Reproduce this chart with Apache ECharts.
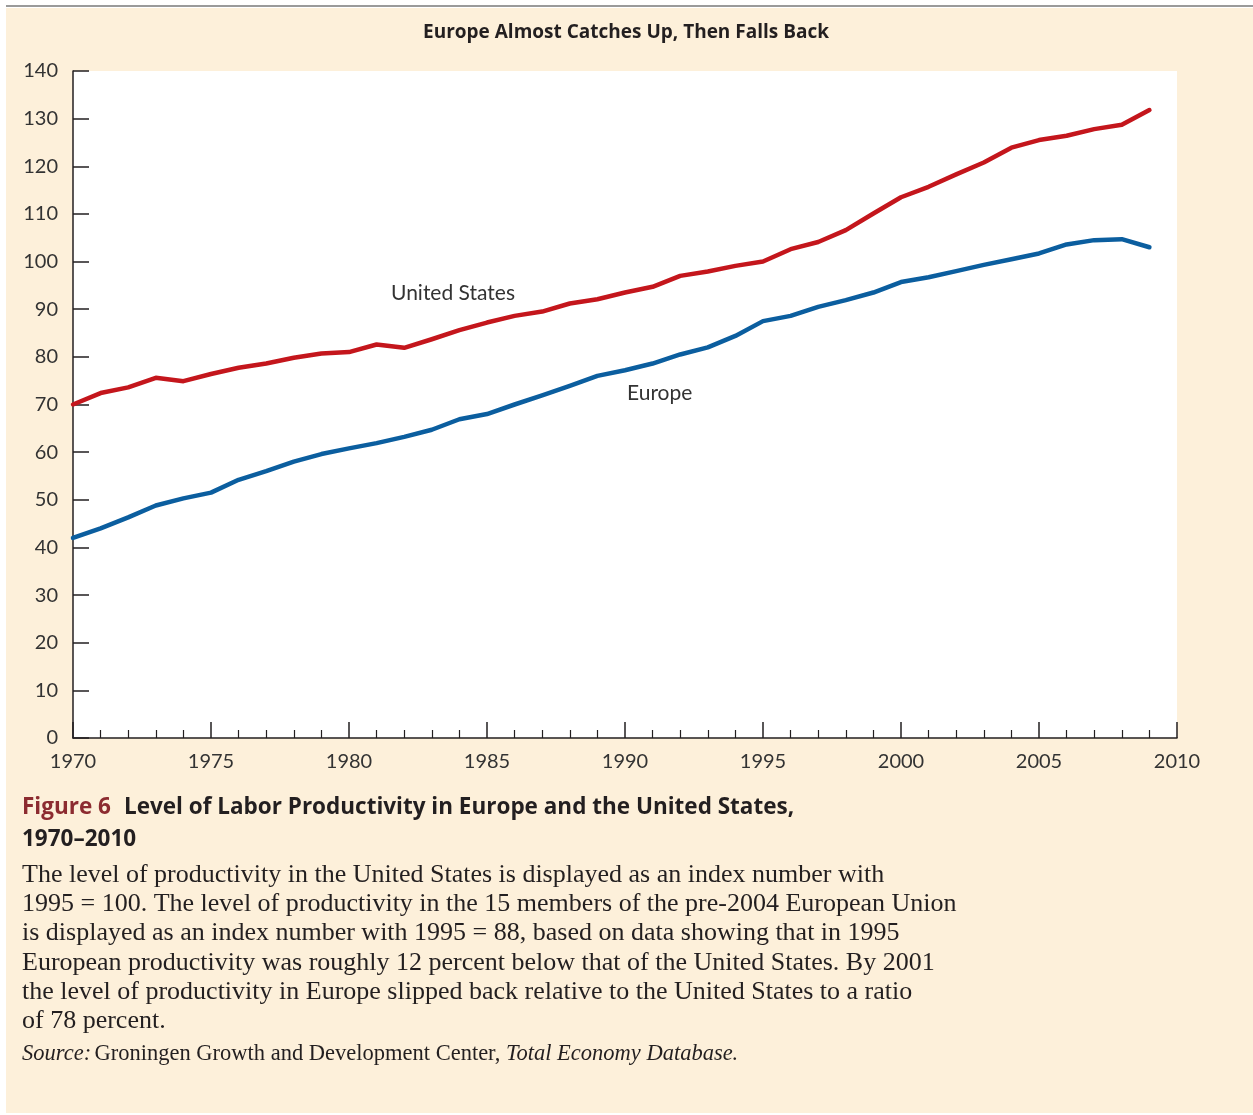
<!DOCTYPE html>
<html>
<head>
<meta charset="utf-8">
<script src="https://cdn.jsdelivr.net/npm/echarts@6/dist/echarts.min.js"></script>
<style>
html,body{margin:0;padding:0;background:#ffffff;}
#chart{width:1253px;height:1115px;}
</style>
</head>
<body>
<div id="chart"></div>
<script>
// ---- data ----
const years = [1970,1971,1972,1973,1974,1975,1976,1977,1978,1979,1980,1981,1982,1983,1984,1985,1986,1987,1988,1989,1990,1991,1992,1993,1994,1995,1996,1997,1998,1999,2000,2001,2002,2003,2004,2005,2006,2007,2008,2009];
const usValues = [70.0,72.4,73.6,75.6,74.9,76.4,77.7,78.6,79.8,80.7,81.0,82.6,81.9,83.7,85.6,87.2,88.6,89.5,91.2,92.1,93.5,94.7,97.0,97.9,99.1,100.0,102.6,104.1,106.6,110.1,113.5,115.7,118.3,120.8,123.9,125.5,126.4,127.8,128.7,131.8];
const europeValues = [42.0,44.0,46.3,48.8,50.3,51.5,54.2,56.0,58.0,59.6,60.8,61.9,63.2,64.7,66.9,68.0,70.0,71.9,73.9,76.0,77.2,78.6,80.5,82.0,84.4,87.5,88.6,90.5,91.9,93.5,95.7,96.7,98.0,99.3,100.5,101.7,103.6,104.5,104.7,103.0];
const seriesNames = ['United States','Europe'];
const yTicks = [0,10,20,30,40,50,60,70,80,90,100,110,120,130,140];
const xTicks = [1970,1975,1980,1985,1990,1995,2000,2005,2010];

const chartTitle = 'Europe Almost Catches Up, Then Falls Back';
const figLabel = 'Figure 6';
const figTitle1 = 'Level of Labor Productivity in Europe and the United States,';
const figTitle2 = '1970\u20132010';
const bodyLines = [
 'The level of productivity in the United States is displayed as an index number with',
 '1995 = 100. The level of productivity in the 15 members of the pre-2004 European Union',
 'is displayed as an index number with 1995 = 88, based on data showing that in 1995',
 'European productivity was roughly 12 percent below that of the United States. By 2001',
 'the level of productivity in Europe slipped back relative to the United States to a ratio',
 'of 78 percent.'
];

const usData = years.map((y,i)=>[y,usValues[i]]);
const euData = years.map((y,i)=>[y,europeValues[i]]);

const cream = '#fdf0da';
const sansFont = 'Lato';
const serifFont = 'Liberation Serif';

const chart = echarts.init(document.getElementById('chart'), null, {renderer:'canvas'});

const graphics = [
  {type:'rect', z:-10, shape:{x:6,y:8,width:1247,height:1105}, style:{fill:cream}},
  {type:'rect', z:-9, shape:{x:6,y:5,width:1247,height:2}, style:{fill:'#9a9a9a'}},
  {type:'text', x:626, y:33, style:{text:chartTitle, fill:'#231f20', font:'bold 19px "Open Sans"', align:'center', verticalAlign:'middle'}},
  {type:'text', x:391, y:293, style:{text:seriesNames[0], fill:'#333', font:'21px '+sansFont, align:'left', verticalAlign:'middle'}},
  {type:'text', x:627, y:393, style:{text:seriesNames[1], fill:'#333', font:'21px '+sansFont, align:'left', verticalAlign:'middle'}},
  {type:'text', x:22, y:808, style:{
     text:'{r|'+figLabel+'}{b|'+figTitle1+'}',
     verticalAlign:'middle',
     rich:{
       r:{fill:'#8c2b30', font:'bold 22.5px "Open Sans"', padding:[0,13,0,0]},
       b:{fill:'#231f20', font:'bold 22.5px "Open Sans"'}
     }}},
  {type:'text', x:22, y:840, style:{text:figTitle2, fill:'#231f20', font:'bold 22.5px "Open Sans"', verticalAlign:'middle'}}
];
bodyLines.forEach((t,i)=>{
  graphics.push({type:'text', x:22, y:875+i*29.3, style:{text:t, fill:'#231f20', font:'26px '+serifFont, verticalAlign:'middle'}});
});
graphics.push({type:'text', x:22, y:1054, style:{
  text:'{i|Source:} {n|Groningen Growth and Development Center, }{i|Total Economy Database.}',
  verticalAlign:'middle',
  rich:{
    i:{fill:'#231f20', font:'italic 22.5px '+serifFont},
    n:{fill:'#231f20', font:'22.5px '+serifFont}
  }}});

chart.setOption({
  backgroundColor:'#ffffff',
  animation:false,
  grid:{left:73, top:71, width:1104, height:667, show:true, backgroundColor:'#ffffff', borderWidth:0},
  xAxis:{
    type:'value', min:1970, max:2010, interval:5,
    axisLine:{show:true, lineStyle:{color:'#231f20', width:1.5}},
    axisTick:{show:true, inside:true, length:16, lineStyle:{color:'#231f20', width:1.5}},
    minorTick:{show:true, splitNumber:5, length:8, lineStyle:{color:'#231f20', width:1.2}},
    splitLine:{show:false},
    axisLabel:{color:'#333', fontFamily:sansFont, fontSize:20, margin:14, formatter:v=>String(v)}
  },
  yAxis:{
    type:'value', min:0, max:140, interval:10,
    axisLine:{show:true, lineStyle:{color:'#231f20', width:1.5}},
    axisTick:{show:true, inside:true, length:16, lineStyle:{color:'#231f20', width:1.5}},
    splitLine:{show:false},
    axisLabel:{color:'#333', fontFamily:sansFont, fontSize:20, margin:15}
  },
  series:[
    {name:seriesNames[0], type:'line', data:usData, showSymbol:false, symbol:'none',
     lineStyle:{color:'#c4161c', width:4.5, cap:'round', join:'round'}, z:3},
    {name:seriesNames[1], type:'line', data:euData, showSymbol:false, symbol:'none',
     lineStyle:{color:'#0b5e9f', width:4.5, cap:'round', join:'round'}, z:3}
  ],
  graphic:graphics
});
</script>
</body>
</html>
